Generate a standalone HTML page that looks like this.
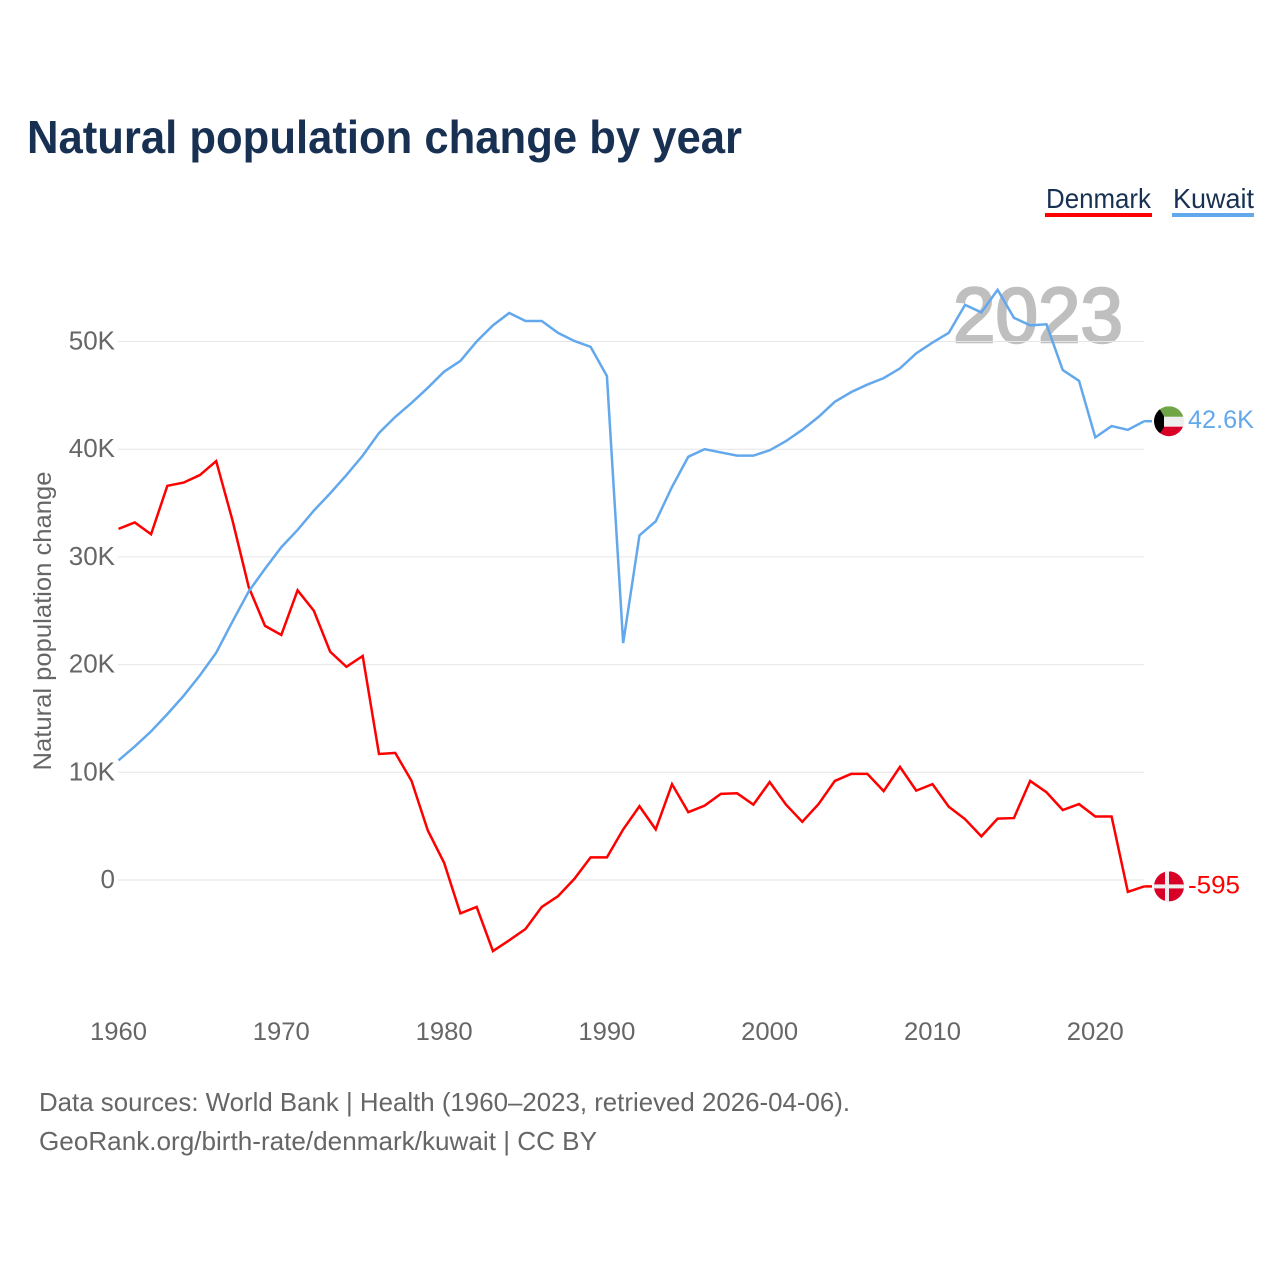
<!DOCTYPE html>
<html lang="en">
<head>
<meta charset="utf-8">
<title>Natural population change by year</title>
<style>
  html, body { margin: 0; padding: 0; background: #fff; }
  svg { display: block; }
  text { font-family: "Liberation Sans", sans-serif; }
</style>
</head>
<body>
<svg id="chart" xmlns="http://www.w3.org/2000/svg" width="1280" height="1280" viewBox="0 0 1280 1280">
  <rect width="1280" height="1280" fill="#ffffff"/>
  <text x="27" y="153" font-size="46" font-weight="700" fill="#183153" textLength="715" lengthAdjust="spacingAndGlyphs">Natural population change by year</text>

  <text x="1046" y="208" font-size="28" fill="#183153" textLength="105" lengthAdjust="spacingAndGlyphs">Denmark</text>
  <rect x="1045" y="213" width="107" height="4" fill="#ff0000"/>
  <text x="1173" y="208" font-size="28" fill="#183153" textLength="81" lengthAdjust="spacingAndGlyphs">Kuwait</text>
  <rect x="1172" y="213" width="82" height="4" fill="#63a8ec"/>

  <text x="1038" y="342" font-size="78" font-weight="400" fill="#808080" stroke="#808080" stroke-width="2.4" opacity="0.5" text-anchor="middle" textLength="170" lengthAdjust="spacingAndGlyphs">2023</text>

  <g id="grid"></g>
  <g id="y-ticks"></g>
  <g id="x-ticks"></g>
  <text transform="translate(51 621) rotate(-90)" font-size="25" fill="#666666" text-anchor="middle" textLength="299" lengthAdjust="spacingAndGlyphs">Natural population change</text>
  <g id="series"></g>
  <g id="end-markers"></g>

  <text x="39" y="1111" font-size="26" fill="#666666" textLength="811" lengthAdjust="spacingAndGlyphs">Data sources: World Bank | Health (1960–2023, retrieved 2026-04-06).</text>
  <text x="39" y="1150" font-size="26" fill="#666666" textLength="558" lengthAdjust="spacingAndGlyphs">GeoRank.org/birth-rate/denmark/kuwait | CC BY</text>
</svg>
<script>
const startYear = 1960;
const denmarkValues = [32.6,33.2,32.1,36.6,36.9,37.6,38.9,33.4,27.2,23.6,22.75,26.9,25.0,21.2,19.8,20.8,11.7,11.8,9.2,4.6,1.6,-3.1,-2.5,-6.6,-5.6,-4.55,-2.5,-1.5,0.1,2.1,2.1,4.7,6.85,4.7,8.9,6.3,6.9,8.0,8.05,7.0,9.1,7.0,5.4,7.05,9.2,9.85,9.85,8.25,10.5,8.3,8.9,6.8,5.65,4.05,5.7,5.75,9.2,8.15,6.5,7.05,5.9,5.9,-1.1,-0.595];
const kuwaitValues = [11.1,12.4,13.8,15.4,17.1,19.0,21.1,24.0,26.8,28.9,30.9,32.5,34.3,35.9,37.6,39.4,41.5,43.0,44.3,45.7,47.2,48.2,50.0,51.5,52.65,51.9,51.9,50.8,50.05,49.5,46.8,22.0,32.0,33.3,36.5,39.3,40.0,39.7,39.4,39.4,39.9,40.75,41.8,43.0,44.4,45.3,46.0,46.6,47.5,48.9,49.9,50.8,53.4,52.7,54.8,52.2,51.5,51.6,47.35,46.35,41.1,42.15,41.8,42.6];
const yTickValues = [0,10,20,30,40,50];
const yTickLabels = ['0','10K','20K','30K','40K','50K'];
const xTickYears = [1960,1970,1980,1990,2000,2010,2020];
const denmarkEndLabel = '-595';
const kuwaitEndLabel = '42.6K';

const SVG_NS = 'http://www.w3.org/2000/svg';
function xScale(year) { return 118.5 + (year - 1960) * 16.28; }
function yScale(value) { return 880 - value * 10.77; }
function make(tag, attrs, parent) {
  const el = document.createElementNS(SVG_NS, tag);
  for (const k in attrs) el.setAttribute(k, attrs[k]);
  parent.appendChild(el);
  return el;
}

const grid = document.getElementById('grid');
const yTicks = document.getElementById('y-ticks');
yTickValues.forEach(function (v, i) {
  const y = yScale(v);
  const line = make('line', { x1: 118, x2: 1144, y1: y, y2: y, stroke: '#e6e6e6', 'stroke-width': 1 }, grid);
  
  
  const t = make('text', { x: 115, y: y + 8, 'font-size': 26, fill: '#666666', 'text-anchor': 'end' }, yTicks);
  
  
  t.textContent = yTickLabels[i];
});

const xTicks = document.getElementById('x-ticks');
xTickYears.forEach(function (yr) {
  const t = make('text', { x: xScale(yr), y: 1040, 'font-size': 25, fill: '#666666', 'text-anchor': 'middle', textLength: 57, lengthAdjust: 'spacingAndGlyphs' }, xTicks);
  
  
  t.textContent = String(yr);
});

function pathFor(values) {
  return values.map(function (v, i) {
    return (i ? 'L' : 'M') + xScale(startYear + i).toFixed(2) + ' ' + yScale(v).toFixed(2);
  }).join(' ');
}
const series = document.getElementById('series');
const lineDenmark = make('path', { d: pathFor(denmarkValues), fill: 'none', stroke: '#ff0000', 'stroke-width': 2.5, 'stroke-linejoin': 'miter' }, series);


const lineKuwait = make('path', { d: pathFor(kuwaitValues), fill: 'none', stroke: '#63a8ec', 'stroke-width': 2.5, 'stroke-linejoin': 'miter' }, series);



const markers = document.getElementById('end-markers');
const lastYear = startYear + kuwaitValues.length - 1;
const flagX = 1169;

const kY = yScale(kuwaitValues[kuwaitValues.length - 1]);
const dY = yScale(denmarkValues[denmarkValues.length - 1]);

const kStub = make('line', { x1: xScale(lastYear), x2: flagX - 17, y1: kY, y2: kY, stroke: '#63a8ec', 'stroke-width': 2.5 }, markers);


const dStub = make('line', { x1: xScale(lastYear), x2: flagX - 17, y1: dY, y2: dY, stroke: '#ff0000', 'stroke-width': 2.5 }, markers);



const defs = make('defs', {}, markers);
const clipK = make('clipPath', { id: 'clip-kuwait' }, defs);
make('circle', { cx: flagX, cy: kY, r: 15 }, clipK);
const clipD = make('clipPath', { id: 'clip-denmark' }, defs);
make('circle', { cx: flagX, cy: dY, r: 15 }, clipD);

const flagK = make('g', { 'clip-path': 'url(#clip-kuwait)' }, markers);


make('rect', { x: flagX - 15, y: kY - 15, width: 30, height: 11, fill: '#6fa544' }, flagK);
make('rect', { x: flagX - 15, y: kY - 4.5, width: 30, height: 10, fill: '#eeeeee' }, flagK);
make('rect', { x: flagX - 15, y: kY + 5.5, width: 30, height: 10, fill: '#d80027' }, flagK);
make('polygon', {
  points: [[flagX - 15, kY - 15], [flagX - 11, kY - 15], [flagX - 5, kY - 5], [flagX - 5, kY + 6], [flagX - 11, kY + 15], [flagX - 15, kY + 15]].map(function (p) { return p.join(','); }).join(' '),
  fill: '#000000'
}, flagK);

const flagD = make('g', { 'clip-path': 'url(#clip-denmark)' }, markers);


make('rect', { x: flagX - 15, y: dY - 15, width: 30, height: 30, fill: '#d80027' }, flagD);
make('rect', { x: flagX - 15, y: dY - 2, width: 30, height: 4, fill: '#eeeeee' }, flagD);
make('rect', { x: flagX - 4, y: dY - 15, width: 4, height: 30, fill: '#eeeeee' }, flagD);

const kLabel = make('text', { x: 1188, y: kY + 7, 'font-size': 25, fill: '#63a8ec', textLength: 66, lengthAdjust: 'spacingAndGlyphs' }, markers);


kLabel.textContent = kuwaitEndLabel;
const dLabel = make('text', { x: 1188, y: dY + 7, 'font-size': 25, fill: '#ff0000', textLength: 52, lengthAdjust: 'spacingAndGlyphs' }, markers);


dLabel.textContent = denmarkEndLabel;
</script>
</body>
</html>
